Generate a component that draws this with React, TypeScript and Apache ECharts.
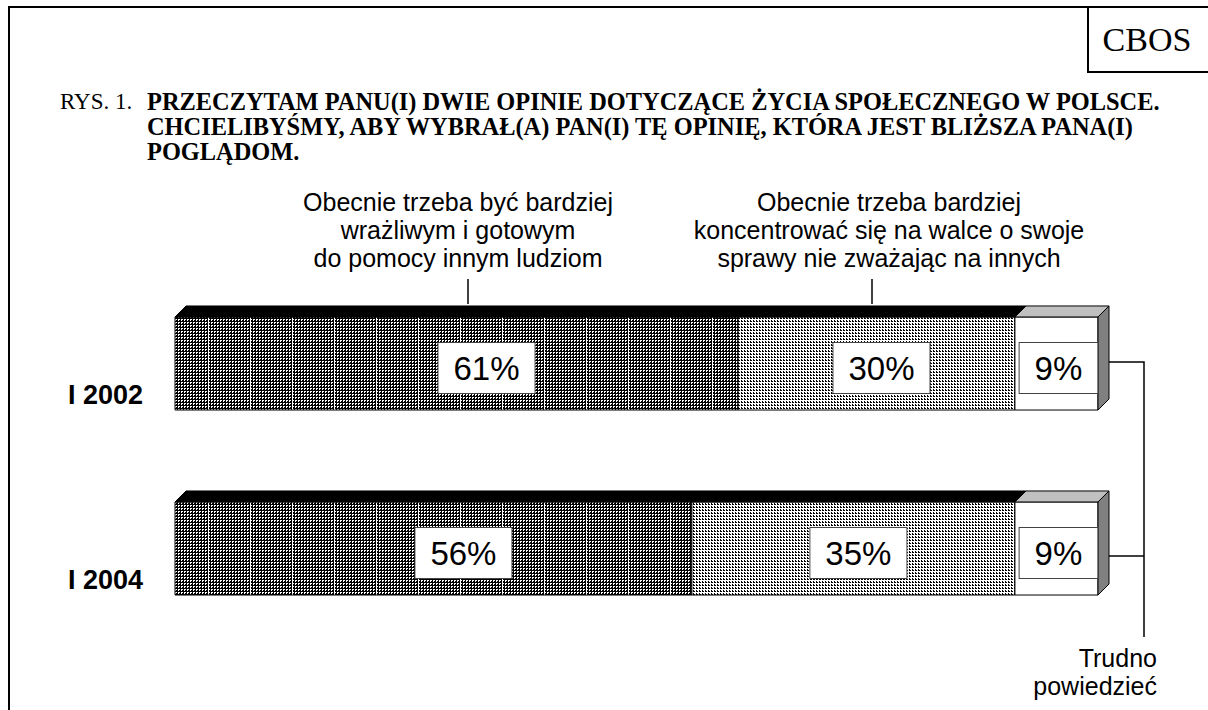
import React, { useEffect, useRef } from "react";
import * as echarts from "echarts";

const categories = ["I 2002", "I 2004"];
const sensitiveValues = [61, 56];
const selfishValues = [30, 35];
const hardToSayValues = [9, 9];

const titleLines = [
  "PRZECZYTAM PANU(I) DWIE OPINIE DOTYCZĄCE ŻYCIA SPOŁECZNEGO W POLSCE.",
  "CHCIELIBYŚMY, ABY WYBRAŁ(A) PAN(I) TĘ OPINIĘ, KTÓRA JEST BLIŻSZA PANA(I)",
  "POGLĄDOM.",
];
const sensitiveLabel = "Obecnie trzeba być bardziej\nwrażliwym i gotowym\ndo pomocy innym ludziom";
const selfishLabel = "Obecnie trzeba bardziej\nkoncentrować się na walce o swoje\nsprawy nie zważając na innych";
const hardLabel = "Trudno\npowiedzieć";

const SANS = "'Liberation Sans', Arial, sans-serif";
const SERIF = "'Liberation Serif', 'Times New Roman', serif";

function makeTile(w: number, h: number, fn: (x: number, y: number) => boolean) {
  const c = document.createElement("canvas");
  c.width = w;
  c.height = h;
  const ctx = c.getContext("2d")!;
  const img = ctx.createImageData(w, h);
  for (let y = 0; y < h; y++) {
    for (let x = 0; x < w; x++) {
      const v = fn(x, y) ? 0 : 255;
      const i = (y * w + x) * 4;
      img.data[i] = v;
      img.data[i + 1] = v;
      img.data[i + 2] = v;
      img.data[i + 3] = 255;
    }
  }
  ctx.putImageData(img, 0, 0);
  return c.toDataURL();
}

export default function App() {
  const ref = useRef<HTMLDivElement>(null);
  useEffect(() => {
    const chart = echarts.init(ref.current!, undefined, { renderer: "svg" });

    const darkTile = makeTile(42, 3, (x, y) =>
      x % 42 === 40 ? false : x % 3 === 0 || y % 3 === 0 || (x % 3 === 2 && y % 3 === 2)
    );
    const lightTile = makeTile(3, 3, (x, y) => (y % 3 === 0 && x % 3 !== 2) || (x === 0 && y === 2));
    const fills: any[] = [
      { image: darkTile, repeat: "repeat", imageWidth: 42, imageHeight: 3 },
      { image: lightTile, repeat: "repeat", imageWidth: 3, imageHeight: 3 },
      "#ffffff",
    ];
    const topFills = ["#000000", "#000000", "#c0c0c0"];
    const labelShift = [30, 5, 2];

    const data: number[][] = [];
    categories.forEach((_, i) => {
      const segs = [sensitiveValues[i], selfishValues[i], hardToSayValues[i]];
      let acc = 0;
      segs.forEach((v, s) => {
        data.push([acc, acc + v, i, s, v]);
        acc += v;
      });
    });

    const depth = 11;
    const frontRatio = 0.503;

    const renderItem = (params: any, api: any) => {
      const start = api.value(0);
      const end = api.value(1);
      const cat = api.value(2);
      const seg = api.value(3);
      const val = api.value(4);
      const p0 = api.coord([start, cat]);
      const p1 = api.coord([end, cat]);
      const band = api.size([0, 1])[1];
      const h = band * frontRatio;
      const x0 = p0[0];
      const x1 = p1[0];
      const top = p0[1] - h / 2;
      const bottom = p0[1] + h / 2;
      const children: any[] = [
        {
          type: "rect",
          shape: { x: x0, y: top, width: x1 - x0, height: h },
          style: { fill: fills[seg], stroke: "#000", lineWidth: 1 },
        },
        {
          type: "polygon",
          shape: {
            points: [
              [x0, top],
              [x0 + depth, top - depth],
              [x1 + depth, top - depth],
              [x1, top],
            ],
          },
          style: { fill: topFills[seg], stroke: "#000", lineWidth: 1 },
        },
      ];
      if (seg === 2) {
        children.push({
          type: "polygon",
          shape: {
            points: [
              [x1, top],
              [x1 + depth, top - depth],
              [x1 + depth, bottom - depth],
              [x1, bottom],
            ],
          },
          style: { fill: "#808080", stroke: "#000", lineWidth: 1 },
        });
      }
      children.push({
        type: "text",
        x: (x0 + x1) / 2 + labelShift[seg],
        y: p0[1] + 4.5,
        style: {
          text: val + "%",
          fontSize: 33,
          fontFamily: SANS,
          fill: "#000",
          align: "center",
          verticalAlign: "middle",
          lineHeight: 34,
          backgroundColor: "#fff",
          borderColor: "#444",
          borderWidth: 1,
          padding: [8, 15],
        },
      });
      return { type: "group", children };
    };

    const graphic: any[] = [
      {
        type: "rect",
        shape: { x: 9, y: 7, width: 1210, height: 720 },
        style: { fill: "none", stroke: "#000", lineWidth: 2 },
        silent: true,
      },
      {
        type: "polyline",
        shape: { points: [[1088, 7], [1088, 72], [1210, 72]] },
        style: { fill: "none", stroke: "#000", lineWidth: 2 },
      },
      {
        type: "text",
        x: 1147,
        y: 39,
        style: { text: "CBOS", font: `34px ${SERIF}`, fill: "#000", align: "center", verticalAlign: "middle" },
      },
      {
        type: "text",
        x: 60,
        y: 101,
        style: { text: "RYS. 1.", font: `23px ${SERIF}`, fill: "#000", align: "left", verticalAlign: "middle" },
      },
      ...titleLines.map((t, i) => ({
        type: "text",
        x: 147,
        y: 101 + i * 25,
        style: { text: t, font: `bold 24.4px ${SERIF}`, fill: "#000", align: "left", verticalAlign: "middle" },
      })),
      {
        type: "text",
        x: 458,
        y: 230,
        style: { text: sensitiveLabel, font: `25px ${SANS}`, lineHeight: 28, fill: "#000", align: "center", verticalAlign: "middle" },
      },
      {
        type: "text",
        x: 889,
        y: 230,
        style: { text: selfishLabel, font: `25px ${SANS}`, lineHeight: 28, fill: "#000", align: "center", verticalAlign: "middle" },
      },
      {
        type: "text",
        x: 1157,
        y: 672,
        style: { text: hardLabel, font: `25px ${SANS}`, lineHeight: 28, fill: "#000", align: "right", verticalAlign: "middle" },
      },
      { type: "line", shape: { x1: 468, y1: 279, x2: 468, y2: 304 }, style: { stroke: "#000", lineWidth: 1.5 } },
      { type: "line", shape: { x1: 872, y1: 279, x2: 872, y2: 304 }, style: { stroke: "#000", lineWidth: 1.5 } },
      {
        type: "polyline",
        shape: { points: [[1106, 362], [1144, 362], [1144, 637]] },
        style: { fill: "none", stroke: "#000", lineWidth: 1.5 },
      },
      { type: "line", shape: { x1: 1106, y1: 556, x2: 1144, y2: 556 }, style: { stroke: "#000", lineWidth: 1.5 } },
    ];

    chart.setOption({
      animation: false,
      backgroundColor: "#fff",
      grid: { left: 175, right: 110, top: 271, bottom: 69, containLabel: false },
      xAxis: { type: "value", min: 0, max: 100, show: false },
      yAxis: {
        type: "category",
        data: categories,
        inverse: true,
        axisLine: { show: false },
        axisTick: { show: false },
        splitLine: { show: false },
        axisLabel: {
          margin: 32,
          formatter: (v: string) => `{a|${v}}`,
          rich: {
            a: { fontSize: 27, fontWeight: "bold", fontFamily: SANS, color: "#000", padding: [63, 0, 0, 0] },
          },
        },
      },
      series: [
        {
          type: "custom",
          renderItem,
          data,
          encode: { x: [0, 1], y: 2 },
        },
      ],
      graphic,
    });
    return () => chart.dispose();
  }, []);
  return <div ref={ref} style={{ position: "absolute", left: 0, top: 0, width: 1208, height: 710 }} />;
}
